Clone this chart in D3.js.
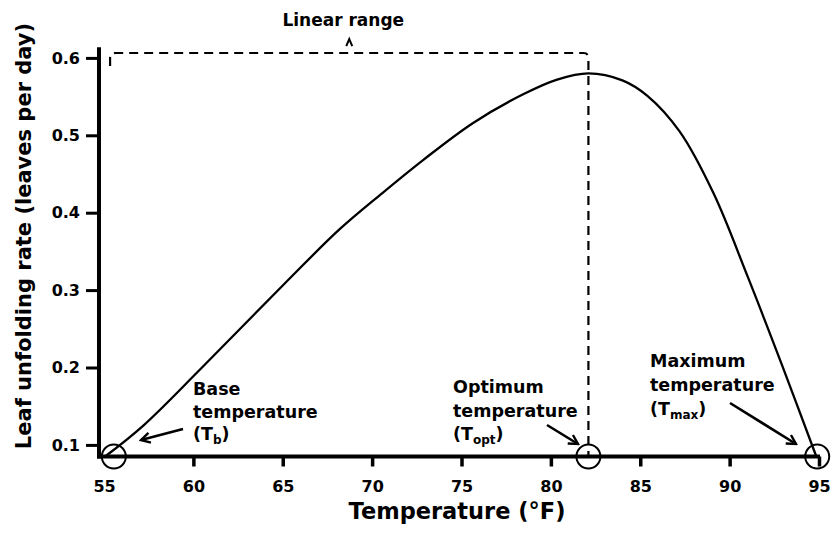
<!DOCTYPE html>
<html>
<head>
<meta charset="utf-8">
<script src="https://cdn.jsdelivr.net/npm/d3@7"></script>
<style>
  html, body { margin: 0; padding: 0; background: #fff; }
  svg text { font-family: "DejaVu Sans", Verdana, sans-serif; font-weight: bold; fill: #000; }
</style>
</head>
<body>
<svg id="chart" width="836" height="533"></svg>
<script>
// ---- data ----
const temperatures = [55.06, 57.2, 60.4, 65.0, 68.2, 70.5, 72.85, 75.65, 78.45, 80.35, 82.1, 84.0, 85.4, 87.2, 89.1, 91.0, 92.9, 94.85];
const rates        = [0.085, 0.125, 0.198, 0.306, 0.379, 0.424, 0.468, 0.516, 0.553, 0.572, 0.580, 0.571, 0.551, 0.505, 0.425, 0.318, 0.205, 0.085];
const xTicks = [55, 60, 65, 70, 75, 80, 85, 90, 95];
const yTicks = [0.1, 0.2, 0.3, 0.4, 0.5, 0.6];
const cardinalTemps = [55.55, 82.1, 94.9];          // Tb, Topt, Tmax
const cardinalNames = [["Base", "temperature", "b"], ["Optimum", "temperature", "opt"], ["Maximum", "temperature", "max"]];
const linearRangeLevel = 0.6063;
const xMin = 54.72, yMin = 0.085, yTop = 0.6126;

// ---- scales ----
const x = d3.scaleLinear().domain([55, 95]).range([104, 819]);
const y = d3.scaleLinear().domain([0.1, 0.6]).range([444.9, 57.9]);

const svg = d3.select("#chart");

// marker for arrows
svg.append("defs").append("marker")
  .attr("id", "arrow").attr("viewBox", "0 0 12 12").attr("refX", 10).attr("refY", 6)
  .attr("markerWidth", 12).attr("markerHeight", 12).attr("markerUnits", "userSpaceOnUse")
  .attr("orient", "auto")
  .append("path").attr("d", "M1,1 L10,6 L1,11").attr("fill", "none")
  .attr("stroke", "#000").attr("stroke-width", 2.4).attr("stroke-linejoin", "miter");

// ---- axes ----
const xAxis = d3.axisBottom(x).tickValues(xTicks).tickSize(10).tickSizeOuter(0).tickPadding(14).tickFormat(d3.format("d"));
const gx = svg.append("g").attr("transform", `translate(0,${y(yMin)})`).call(xAxis);
gx.select(".domain").remove();
gx.selectAll(".tick line").attr("stroke", "#000").attr("stroke-width", 3.5)
  .filter(d => d === 55).remove();
gx.selectAll(".tick text").attr("font-size", 16).attr("font-family", "DejaVu Sans").attr("font-weight", "bold");

const yAxis = d3.axisLeft(y).tickValues(yTicks).tickSize(13).tickSizeOuter(0).tickPadding(6).tickFormat(d3.format(".1f"));
const gy = svg.append("g").attr("transform", `translate(${x(xMin)},0)`).call(yAxis);
gy.select(".domain").remove();
gy.selectAll(".tick line").attr("stroke", "#000").attr("stroke-width", 3);
gy.selectAll(".tick text").attr("font-size", 16).attr("font-family", "DejaVu Sans").attr("font-weight", "bold");

// axis lines
svg.append("line").attr("x1", x(xMin)).attr("x2", x(xMin))
  .attr("y1", y(yTop) - 1).attr("y2", y(yMin) + 2)
  .attr("stroke", "#000").attr("stroke-width", 4);
svg.append("line").attr("x1", x(xMin) - 2).attr("x2", x(95) + 1)
  .attr("y1", y(yMin)).attr("y2", y(yMin))
  .attr("stroke", "#000").attr("stroke-width", 4);

// ---- linear range bracket ----
const bx0 = x(55.34), bx1 = x(cardinalTemps[1]), by = y(linearRangeLevel);
svg.append("path")
  .attr("d", `M${bx0},${by + 13} L${bx0},${by + 5} Q${bx0},${by} ${bx0 + 5},${by} L${bx1 - 5},${by} Q${bx1},${by} ${bx1},${by + 5} L${bx1},${y(yMin)}`)
  .attr("fill", "none").attr("stroke", "#000").attr("stroke-width", 2.2)
  .attr("stroke-dasharray", "9,6");
const cx = (bx0 + bx1) / 2;
svg.append("path").attr("d", `M${cx - 3},${by - 7} L${cx},${by - 14} L${cx + 3},${by - 7}`)
  .attr("fill", "none").attr("stroke", "#000").attr("stroke-width", 2);
svg.append("text").attr("x", cx - 6).attr("y", 26).attr("text-anchor", "middle")
  .attr("font-size", 17).text("Linear range");

// ---- curve ----
const pts = temperatures.map((t, i) => [t, rates[i]]);
svg.append("path").datum(pts)
  .attr("d", d3.line().x(d => x(d[0])).y(d => y(d[1])).curve(d3.curveCatmullRom.alpha(0.5)))
  .attr("fill", "none").attr("stroke", "#000").attr("stroke-width", 2.3);

// ---- cardinal circles ----
svg.selectAll("circle.card").data(cardinalTemps).join("circle")
  .attr("class", "card").attr("cx", d => x(d)).attr("cy", y(yMin)).attr("r", 12)
  .attr("fill", "none").attr("stroke", "#000").attr("stroke-width", 2);

// ---- annotations ----
const labelPos = [[193, 395, 22.5], [453, 393, 23.5], [650, 367, 24]];
cardinalNames.forEach((nm, i) => {
  const [lx, ly, lh] = labelPos[i];
  const g = svg.append("g");
  g.append("text").attr("x", lx).attr("y", ly).attr("font-size", 17.5).text(nm[0]);
  g.append("text").attr("x", lx).attr("y", ly + lh).attr("font-size", 17.5).text(nm[1]);
  const t3 = g.append("text").attr("x", lx).attr("y", ly + 2 * lh).attr("font-size", 17.5);
  t3.append("tspan").text("(T");
  t3.append("tspan").attr("font-size", 12).attr("dy", 4).text(nm[2]);
  t3.append("tspan").attr("dy", -4).text(")");
});
const arrows = [[[183, 429], [141, 440]], [[547, 425], [578, 444]], [[730, 403], [796, 444]]];
arrows.forEach(a => {
  svg.append("line").attr("x1", a[0][0]).attr("y1", a[0][1]).attr("x2", a[1][0]).attr("y2", a[1][1])
    .attr("stroke", "#000").attr("stroke-width", 2.6).attr("marker-end", "url(#arrow)");
});

// ---- axis titles ----
svg.append("text").attr("x", 457).attr("y", 519).attr("text-anchor", "middle")
  .attr("font-size", 22.5).text("Temperature (°F)");
svg.append("text").attr("transform", "translate(31,236) rotate(-90)").attr("text-anchor", "middle")
  .attr("font-size", 21).text("Leaf unfolding rate (leaves per day)");
</script>
</body>
</html>
